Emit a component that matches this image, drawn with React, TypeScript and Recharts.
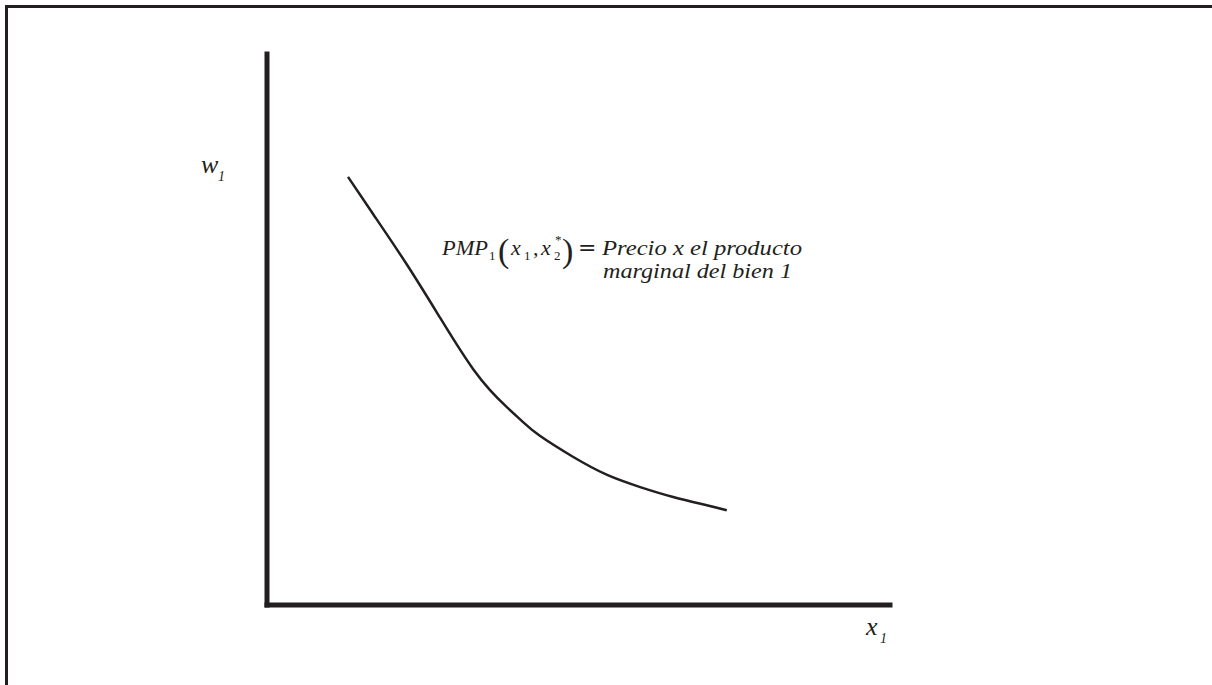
import { LineChart, Line, XAxis, YAxis, Customized } from 'recharts';

// values (x1 on 0-100, w1 on 0-100)
const curveX = [13.0, 17.0, 22.5, 27.8, 30.5, 33.1, 35.8, 38.5, 41.1, 43.8, 49.1, 54.6, 59.9, 65.2, 70.6, 73.8];
const curveW = [77.7, 71.0, 61.7, 52.1, 47.2, 42.8, 39.0, 35.9, 33.2, 30.7, 26.9, 23.6, 21.4, 19.6, 18.1, 17.2];

const data = curveX.map((x, i) => ({ x, w: curveW[i] }));

const ink = '#231f20';
const serif = '"Liberation Serif", "Times New Roman", serif';

const axisLine = { stroke: ink, strokeWidth: 5, strokeLinecap: 'square' as const };

const T = ({ x, y, size, italic, children, family, len }: any) => (
  <text
    x={x}
    y={y}
    fill={ink}
    textLength={len}
    lengthAdjust={len ? 'spacingAndGlyphs' : undefined}
    style={{ fontFamily: family || serif, fontSize: size, fontStyle: italic ? 'italic' : 'normal' }}
  >
    {children}
  </text>
);

const Annotation = () => (
  <g>
    {/* axis names */}
    <T x={201} y={173} size={26} italic>w</T>
    <T x={218} y={181} size={14} italic>1</T>
    <T x={866} y={635} size={26} italic>x</T>
    <T x={880} y={643} size={14} italic>1</T>

    {/* curve label */}
    <T x={442} y={255} size={22} italic len={46}>PMP</T>
    <T x={489} y={260} size={13}>1</T>
    <T x={498} y={262} size={34}>(</T>
    <T x={511} y={255} size={22} italic>x</T>
    <T x={524} y={260} size={13}>1</T>
    <T x={533} y={255} size={22}>,</T>
    <T x={541} y={255} size={22} italic>x</T>
    <T x={554} y={260} size={13}>2</T>
    <T x={555} y={244} size={13}>*</T>
    <T x={562} y={262} size={34}>)</T>
    <T x={578} y={255} size={22} family='"DejaVu Sans", sans-serif'>=</T>
    <T x={602} y={255} size={22} italic len={200}>Precio x el producto</T>
    <T x={603} y={278} size={22} italic len={189}>marginal del bien 1</T>
  </g>
);

export default function App() {
  return (
    <div style={{ position: 'absolute', left: 0, top: 0, width: 1212, height: 685, background: '#fff', overflow: 'hidden' }}>
      <div
        style={{
          position: 'absolute',
          left: 5,
          top: 5,
          width: 1212,
          height: 685,
          borderTop: `3px solid ${ink}`,
          borderLeft: `3px solid ${ink}`,
        }}
      />
      <div style={{ position: 'absolute', left: 0, top: 0 }}>
        <LineChart width={1212} height={685} data={data} margin={{ top: 54, right: 322, bottom: 70, left: 257 }}>
          <XAxis
            type="number"
            dataKey="x"
            domain={[0, 100]}
            height={10}
            tick={false}
            tickLine={false}
            axisLine={axisLine}
          />
          <YAxis
            type="number"
            dataKey="w"
            domain={[0, 100]}
            width={10}
            tick={false}
            tickLine={false}
            axisLine={axisLine}
          />
          <Line
            type="natural"
            dataKey="w"
            stroke={ink}
            strokeWidth={2.5}
            dot={false}
            isAnimationActive={false}
          />
          <Customized component={Annotation} />
        </LineChart>
      </div>
    </div>
  );
}
